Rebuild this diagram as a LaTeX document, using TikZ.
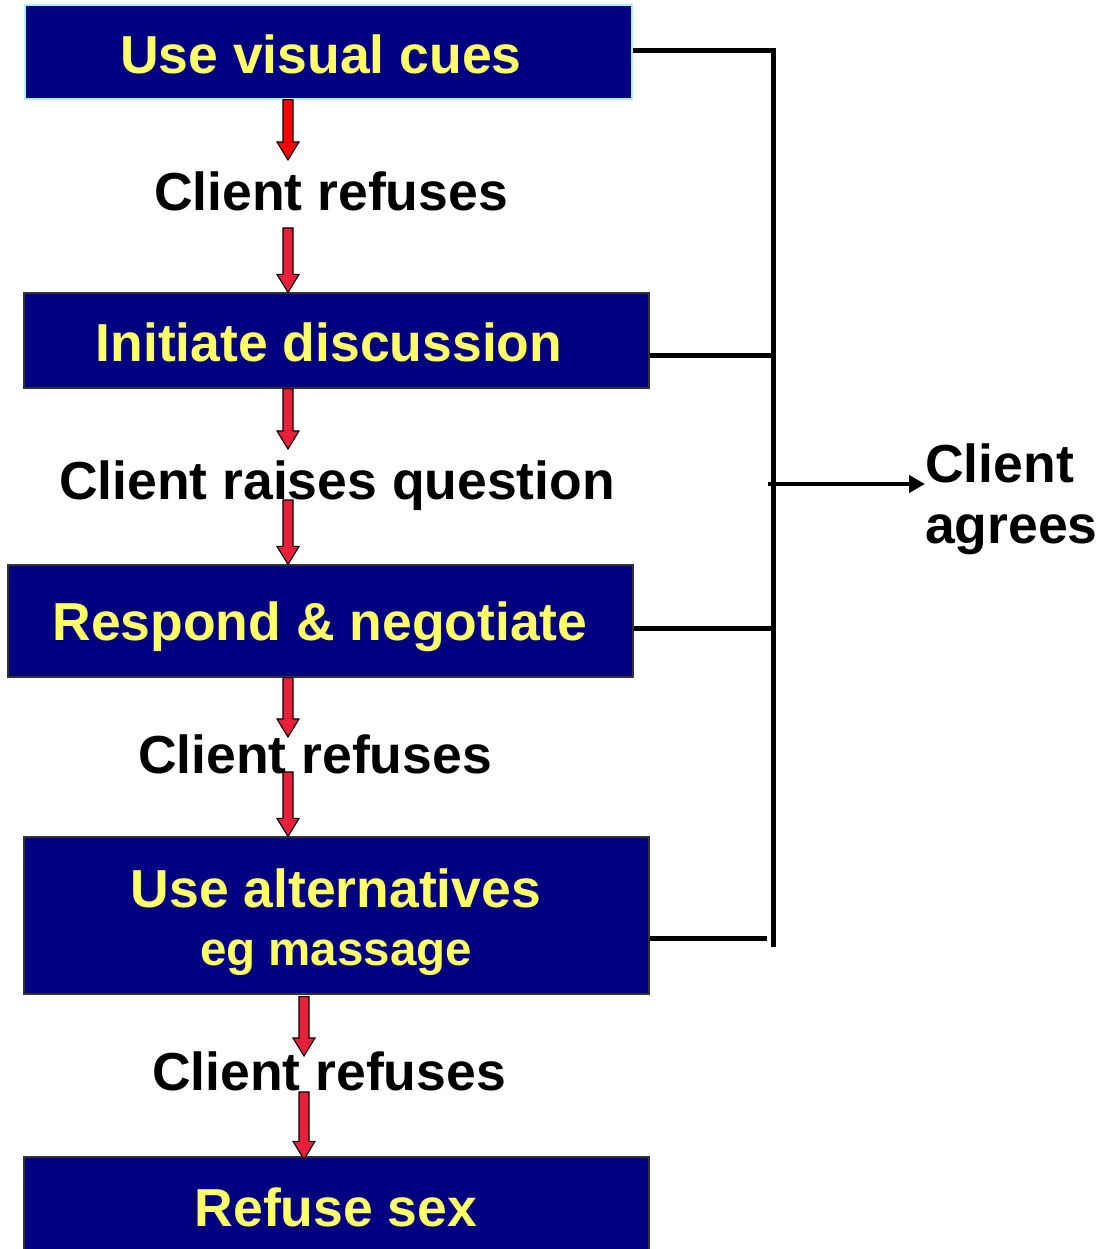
\documentclass[tikz,border=0pt]{standalone}
\usepackage{fontspec}
\setmainfont{Liberation Sans}
\usetikzlibrary{arrows.meta,calc}
\definecolor{boxblue}{HTML}{000080}
\definecolor{txtyellow}{HTML}{FFFF66}
\definecolor{crim}{HTML}{E8203A}
\definecolor{cyanedge}{HTML}{A8F4FF}
\tikzset{
  box/.style={draw=black!80, line width=1.2pt, fill=boxblue, minimum width=625pt, inner sep=0pt},
  boxtxt/.style={anchor=base, inner sep=0pt, text=txtyellow, font=\bfseries\fontsize{53.5}{55}\selectfont},
  lbl/.style={anchor=base, inner sep=0pt, text=black, font=\bfseries\fontsize{53.5}{60}\selectfont},
  conn/.style={line width=5pt, black},
  fat/.style={draw=black, line width=1.1pt, line join=miter}
}
\newcommand\fatarrow[3]{% colour, start, end
  \filldraw[fat, fill=#1] let \p1=#2, \p2=#3 in
    (\x1-5pt,\y1) -- (\x1+5pt,\y1) -- (\x1+5pt,\y2+18pt) -- (\x1+11pt,\y2+18pt)
    -- (\x1,\y2) -- (\x1-11pt,\y2+18pt) -- (\x1-5pt,\y2+18pt) -- cycle;}
\begin{document}
\begin{tikzpicture}[x=1pt,y=-1pt]
\useasboundingbox[fill=white] (0,0) rectangle (1098,1249);
% boxes
\node[box, draw=cyanedge, minimum width=607pt, minimum height=94pt] (b1) at (328.5,52) {};
\node[box, minimum height=95pt] (b2) at (336.5,340.5) {};
\node[box, minimum height=112pt] (b3) at (320.5,621) {};
\node[box, minimum height=157pt] (b4) at (336.5,915.5) {};
\node[box, minimum height=100pt] (b5) at (336.5,1207) {};
% box texts
\node[boxtxt] (t1) at (321,74) {Use visual cues};
\node[boxtxt] (t2) at (329,361) {Initiate discussion};
\node[boxtxt] (t3) at (320,640) {Respond \& negotiate};
\node[boxtxt] (t4a) at (336,907) {Use alternatives};
\node[boxtxt, font=\bfseries\fontsize{47.5}{50}\selectfont] (t4b) at (336,965) {eg massage};
\node[boxtxt] (t5) at (336,1226) {Refuse sex};
% labels
\node[lbl] (l1) at (331,211) {Client refuses};
\node[lbl] (l2) at (337,499) {Client raises question};
\node[lbl] (l3) at (315,773) {Client refuses};
\node[lbl] (l4) at (329,1090) {Client refuses};
\node[lbl, anchor=base west] (ag1) at (925,482) {Client};
\node[lbl, anchor=base west] (ag2) at (925,543) {agrees};
% arrow coordinates
\coordinate (a1e) at (288,160);
\coordinate (a2s) at (288,228);
\coordinate (a3e) at (288,449);
\coordinate (a4s) at (288,500);
\coordinate (a5e) at (288,737);
\coordinate (a6s) at (288,772);
\coordinate (a7e) at (304,1056);
\coordinate (a8s) at (304,1092);
\fatarrow{red}{(b1.south -| a1e)}{(a1e)}
\fatarrow{crim}{(a2s)}{(b2.north -| a2s)}
\fatarrow{crim}{(b2.south -| a3e)}{(a3e)}
\fatarrow{crim}{(a4s)}{(b3.north -| a4s)}
\fatarrow{crim}{(b3.south -| a5e)}{(a5e)}
\fatarrow{crim}{(a6s)}{(b4.north -| a6s)}
\fatarrow{crim}{([yshift=-2pt]b4.south -| a7e)}{(a7e)}
\fatarrow{crim}{(a8s)}{([yshift=-3pt]b5.north -| a8s)}
% right connectors
\coordinate (vtop) at (773,51);
\coordinate (vbot) at (773,947);
\coordinate (v4) at (767,938);
\coordinate (jx) at (768,484);
\draw[conn, line join=miter] (b1.east |- vtop) -- (vtop) -- (vbot);
\draw[conn] (b2.east |- 0,355) -- (773,355);
\draw[conn] (b3.east |- 0,628) -- (773,628);
\draw[conn] (b4.east |- v4) -- (v4);
\draw[line width=4pt, -{Triangle[width=17pt,length=16pt]}] (jx) -- (ag1.west |- jx);
\end{tikzpicture}
\end{document}
